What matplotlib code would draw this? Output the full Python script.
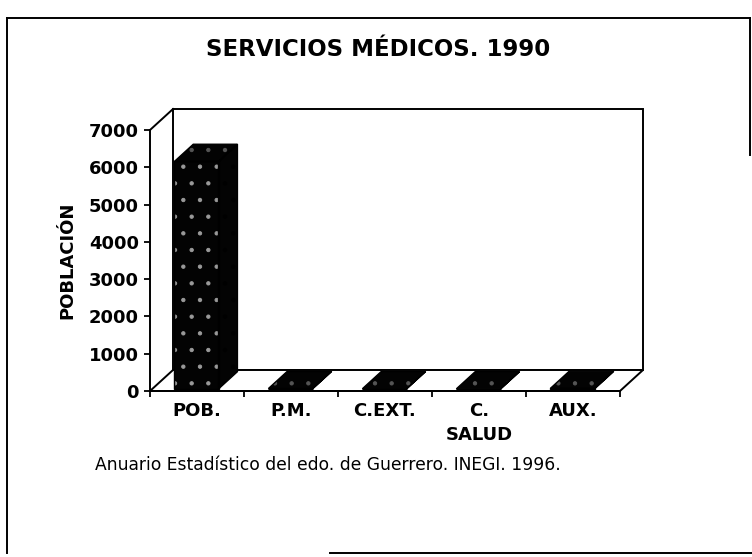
import matplotlib
matplotlib.use('Agg')
import matplotlib.pyplot as plt
from matplotlib.patches import Polygon
from matplotlib.lines import Line2D

# data
categories = ['POB.', 'P.M.', 'C.EXT.', 'C.\nSALUD', 'AUX.']
values = [6100, 9, 4, 2, 14]
y_ticks = [0, 1000, 2000, 3000, 4000, 5000, 6000, 7000]

plt.rcParams['font.family'] = ['DejaVu Sans']
plt.rcParams['hatch.linewidth'] = 0.7

W, H = 752, 557
fig = plt.figure(figsize=(W / 100, H / 100), dpi=100)


def fx(px):
    return px / W


def fy(py):
    return 1 - py / H


# front plane of the pseudo-3D plot, in pixels
x0, x1 = 150, 620
y0, ytop = 391, 130
ax = fig.add_axes([fx(x0), fy(y0), fx(x1) - fx(x0), fy(ytop) - fy(y0)])
ax.set_xlim(0, len(categories))
ax.set_ylim(0, y_ticks[-1])

# depth offset of the 3D box, converted to data units
ddx = 23 / ((x1 - x0) / len(categories))
ddy = 21 / ((y0 - ytop) / y_ticks[-1])
top = y_ticks[-1]
n = len(categories)

# back wall, floor and left edge
ax.add_patch(Polygon([(ddx, ddy), (n + ddx, ddy), (n + ddx, top + ddy), (ddx, top + ddy)],
                     closed=True, fc='white', ec='black', lw=1.4, clip_on=False, zorder=1))
ax.add_patch(Polygon([(0, 0), (n, 0), (n + ddx, ddy), (ddx, ddy)],
                     closed=True, fc='white', ec='black', lw=1.4, clip_on=False, zorder=2))
ax.plot([0, ddx], [top, top + ddy], color='black', lw=1.4, clip_on=False, zorder=2)

# bars as boxes
w = 0.47
f0, f1 = 0.1, 0.92
for i, v in enumerate(values):
    l = i + (1 - w) / 2 - 0.03
    r = l + w
    ax0, ay0 = f0 * ddx, f0 * ddy
    ax1, ay1 = f1 * ddx, f1 * ddy
    side = [(r + ax0, ay0), (r + ax1, ay1), (r + ax1, v + ay1), (r + ax0, v + ay0)]
    topf = [(l + ax0, v + ay0), (r + ax0, v + ay0), (r + ax1, v + ay1), (l + ax1, v + ay1)]
    front = [(l + ax0, ay0), (r + ax0, ay0), (r + ax0, v + ay0), (l + ax0, v + ay0)]
    for pts, spec in ((side, '#000000'), (topf, '#555555'), (front, '#9a9a9a')):
        ax.add_patch(Polygon(pts, closed=True, fc='#030303', ec=spec, hatch='.',
                             lw=0, clip_on=False, zorder=3))
        ax.add_patch(Polygon(pts, closed=True, fill=False, ec='black', lw=1.0,
                             clip_on=False, zorder=4))

ax.set_yticks(y_ticks)
ax.set_yticklabels([str(t) for t in y_ticks], fontsize=13, fontweight='bold')
ax.set_xticks(range(n + 1))
ax.set_xticklabels([''] * (n + 1))
ax.set_xticks([i + 0.5 for i in range(n)], minor=True)
ax.set_xticklabels(categories, minor=True, fontsize=13, fontweight='bold', linespacing=1.45)
ax.tick_params(axis='x', which='major', length=4, width=1.3, direction='out')
ax.tick_params(axis='x', which='minor', length=0, pad=8)
ax.tick_params(axis='y', length=4, width=1.3, direction='out', pad=4)
for s in ('top', 'right'):
    ax.spines[s].set_visible(False)
for s in ('left', 'bottom'):
    ax.spines[s].set_linewidth(1.4)
    ax.spines[s].set_zorder(5)
ax.patch.set_alpha(0)

ax.set_ylabel('POBLACIÓN', fontsize=13, fontweight='bold', labelpad=9)

fig.text(fx(378), fy(49), 'SERVICIOS MÉDICOS. 1990', fontsize=16.5, fontweight='bold',
         ha='center', va='center')
fig.text(fx(95), fy(465), 'Anuario Estadístico del edo. de Guerrero. INEGI. 1996.',
         fontsize=12.3, ha='left', va='center')

# scanned page frame (partly faded in the original)
frame = dict(color='black', lw=1.4, transform=fig.transFigure)
fig.add_artist(Line2D([fx(7), fx(7)], [fy(18), fy(553)], **frame))
fig.add_artist(Line2D([fx(7), fx(750)], [fy(18), fy(18)], **frame))
fig.add_artist(Line2D([fx(750), fx(750)], [fy(18), fy(155)], **frame))
fig.add_artist(Line2D([fx(330), fx(752)], [fy(553), fy(553)], **frame))

fig.savefig('out.png', dpi=100)
